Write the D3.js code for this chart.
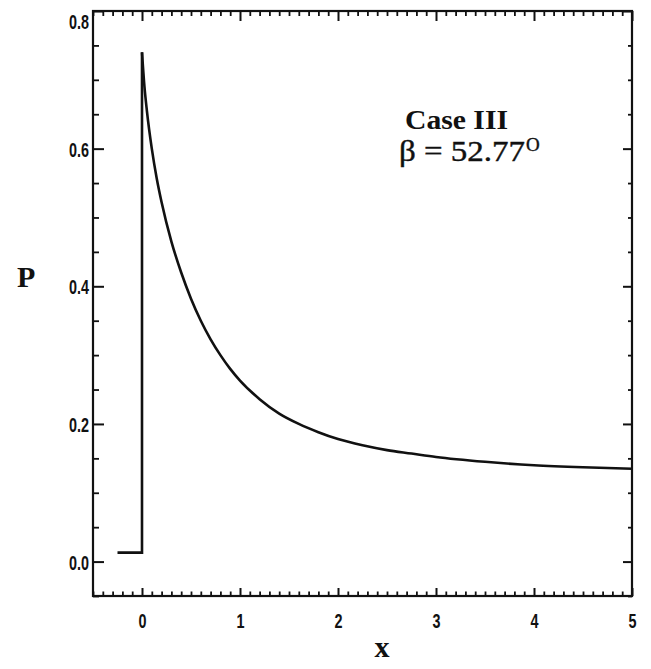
<!DOCTYPE html>
<html>
<head>
<meta charset="utf-8">
<script src="https://cdn.jsdelivr.net/npm/d3@7"></script>
<style>
  html, body { margin: 0; padding: 0; background: #fff; }
  svg { display: block; }
</style>
</head>
<body>
<svg id="chart" width="651" height="669"></svg>
<script>
// ---- data ----
const stepX = [-0.25, 0, 0];
const stepP = [0.013, 0.013, 0.74];
const decayX = [0, 0.025, 0.05, 0.1, 0.15, 0.2, 0.3, 0.4, 0.5, 0.6, 0.7, 0.8, 0.9, 1.0, 1.2, 1.4, 1.6, 1.8, 2.0, 2.25, 2.5, 2.75, 3.0, 3.5, 4.0, 4.5, 5.0];
const decayP = [0.74, 0.69, 0.655, 0.600, 0.557, 0.522, 0.465, 0.420, 0.382, 0.350, 0.323, 0.300, 0.280, 0.263, 0.236, 0.215, 0.200, 0.188, 0.178, 0.169, 0.162, 0.157, 0.152, 0.145, 0.140, 0.137, 0.135];
const xMajorTicks = [0, 1, 2, 3, 4, 5];
const xTickLabels = ["0", "1", "2", "3", "4", "5"];
const yMajorTicks = [0.0, 0.2, 0.4, 0.6, 0.8];
const yTickLabels = ["0.0", "0.2", "0.4", "0.6", "0.8"];
const xDomain = [-0.5, 5];
const yDomain = [-0.05, 0.8];
const annotationTitle = "Case III";
const annotationBeta = "\u03B2 = 52.77";
const annotationDeg = "O";
const xLabel = "x";
const yLabel = "P";

(function () {
// ---- layout ----
const svg = d3.select("#chart");
const pLeft = 93, pRight = 632, pTop = 11, pBottom = 596;
const x = d3.scaleLinear().domain(xDomain).range([pLeft, pRight]);
const y = d3.scaleLinear().domain(yDomain).range([pBottom, pTop]);

const xMinor = d3.range(-5, 51).filter(i => i % 10 !== 0).map(i => i / 10);
const yMinor = d3.range(-1, 17).filter(i => i % 4 !== 0).map(i => i * 0.05);

const tickFont = "'Liberation Sans Narrow','Arial Narrow','Liberation Sans',Arial,sans-serif";

function styleAxis(g, sw) {
  g.select(".domain").remove();
  g.selectAll(".tick line").attr("stroke", "#111").attr("stroke-width", sw);
}

// bottom axis (ticks point up)
const gB = svg.append("g").attr("transform", `translate(0,${pBottom})`)
  .call(d3.axisBottom(x).tickValues(xMajorTicks).tickSize(-8).tickPadding(17)
    .tickFormat((d, i) => xTickLabels[i]));
styleAxis(gB, 2);
gB.selectAll(".tick text")
  .attr("font-family", tickFont).attr("font-weight", "bold").attr("font-size", 21)
  .attr("fill", "#111").attr("textLength", 8).attr("lengthAdjust", "spacingAndGlyphs");
const gBm = svg.append("g").attr("transform", `translate(0,${pBottom})`)
  .call(d3.axisBottom(x).tickValues(xMinor).tickSize(-4.5).tickFormat(""));
styleAxis(gBm, 1.8);

// top axis (ticks point down)
const gT = svg.append("g").attr("transform", `translate(0,${pTop})`)
  .call(d3.axisTop(x).tickValues(xMajorTicks).tickSize(-10).tickFormat(""));
styleAxis(gT, 2);
const gTm = svg.append("g").attr("transform", `translate(0,${pTop})`)
  .call(d3.axisTop(x).tickValues(xMinor).tickSize(-5).tickFormat(""));
styleAxis(gTm, 1.8);

// left axis (ticks point right)
const gL = svg.append("g").attr("transform", `translate(${pLeft},0)`)
  .call(d3.axisLeft(y).tickValues(yMajorTicks).tickSize(-11).tickPadding(4)
    .tickFormat((d, i) => yTickLabels[i]));
styleAxis(gL, 2);
gL.selectAll(".tick text")
  .attr("font-family", tickFont).attr("font-weight", "bold").attr("font-size", 21)
  .attr("fill", "#111").attr("textLength", 20).attr("lengthAdjust", "spacingAndGlyphs")
  .attr("dy", d => d >= 0.8 ? "0.85em" : "0.36em");
const gLm = svg.append("g").attr("transform", `translate(${pLeft},0)`)
  .call(d3.axisLeft(y).tickValues(yMinor).tickSize(-6).tickFormat(""));
styleAxis(gLm, 1.8);

// right axis (ticks point left)
const gR = svg.append("g").attr("transform", `translate(${pRight},0)`)
  .call(d3.axisRight(y).tickValues(yMajorTicks).tickSize(-9).tickFormat(""));
styleAxis(gR, 2);
const gRm = svg.append("g").attr("transform", `translate(${pRight},0)`)
  .call(d3.axisRight(y).tickValues(yMinor).tickSize(-4).tickFormat(""));
styleAxis(gRm, 1.8);

// frame
svg.append("rect")
  .attr("x", pLeft).attr("y", pTop)
  .attr("width", pRight - pLeft).attr("height", pBottom - pTop)
  .attr("fill", "none").attr("stroke", "#111").attr("stroke-width", 2.2);

// curve
const stepData = stepX.map((v, i) => [v, stepP[i]]);
const decayData = decayX.map((v, i) => [v, decayP[i]]);
svg.append("path").datum(stepData)
  .attr("fill", "none").attr("stroke", "#111").attr("stroke-width", 2.6)
  .attr("stroke-linejoin", "miter")
  .attr("d", d3.line().x(d => x(d[0])).y(d => y(d[1])));
svg.append("path").datum(decayData)
  .attr("fill", "none").attr("stroke", "#111").attr("stroke-width", 2.6)
  .attr("d", d3.line().x(d => x(d[0])).y(d => y(d[1])).curve(d3.curveMonotoneX));

// axis titles
const serif = "'Liberation Serif','Times New Roman',Times,serif";
svg.append("text").attr("x", 17).attr("y", 287)
  .attr("font-family", serif).attr("font-weight", "bold").attr("font-size", 30)
  .attr("fill", "#111").text(yLabel);
svg.append("text").attr("x", 382).attr("y", 657).attr("text-anchor", "middle")
  .attr("font-family", serif).attr("font-weight", "bold").attr("font-size", 30)
  .attr("fill", "#111").text(xLabel);

// annotation
svg.append("text").attr("x", 405).attr("y", 129)
  .attr("font-family", serif).attr("font-weight", "bold").attr("font-size", 28)
  .attr("fill", "#111").attr("textLength", 103).attr("lengthAdjust", "spacingAndGlyphs")
  .text(annotationTitle);
const beta = svg.append("text").attr("x", 399).attr("y", 161)
  .attr("font-family", serif).attr("font-size", 29).attr("fill", "#111")
  .attr("stroke", "#111").attr("stroke-width", 0.4);
beta.append("tspan").attr("textLength", 126).attr("lengthAdjust", "spacingAndGlyphs")
  .text(annotationBeta);
beta.append("tspan").attr("dy", -10).attr("dx", 1).attr("font-size", 19).text(annotationDeg);
})();
</script>
</body>
</html>
